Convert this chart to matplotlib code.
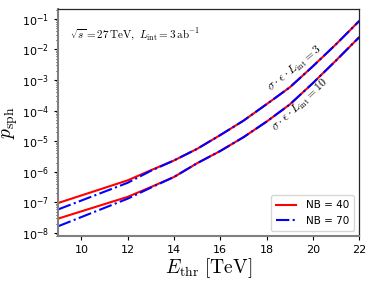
import numpy as np
import matplotlib
matplotlib.use("Agg")
import matplotlib.pyplot as plt

# threshold energies (TeV)
e_thr = [9, 12, 13, 14, 15, 16, 17, 18, 19, 20, 21, 22]

# log10 of sphaleron probability, sigma*eps*L = 3 (upper) and 10 (lower)
lg3_nb40 = [-7.02, -6.28, -5.95, -5.63, -5.25, -4.80, -4.33, -3.79, -3.24, -2.55, -1.83, -1.07]
lg3_nb70 = [-7.23, -6.36, -5.97, -5.63, -5.25, -4.80, -4.33, -3.79, -3.24, -2.55, -1.83, -1.07]
lg10_nb40 = [-7.53, -6.82, -6.50, -6.17, -5.72, -5.32, -4.87, -4.36, -3.80, -3.10, -2.36, -1.60]
lg10_nb70 = [-7.78, -6.88, -6.52, -6.17, -5.72, -5.32, -4.87, -4.36, -3.80, -3.10, -2.36, -1.60]

p3_nb40 = 10.0 ** np.array(lg3_nb40)
p3_nb70 = 10.0 ** np.array(lg3_nb70)
p10_nb40 = 10.0 ** np.array(lg10_nb40)
p10_nb70 = 10.0 ** np.array(lg10_nb70)

fig = plt.figure(figsize=(3.73, 2.83), dpi=100)
ax = fig.add_axes([0.156, 0.166, 0.807, 0.803])

ax.plot(e_thr, p3_nb40, color="red", lw=1.5, label="NB = 40")
ax.plot(e_thr, p3_nb70, color="blue", lw=1.5, ls="-.", label="NB = 70")
ax.plot(e_thr, p10_nb40, color="red", lw=1.5)
ax.plot(e_thr, p10_nb70, color="blue", lw=1.5, ls="-.")

ax.set_yscale("log")
ax.set_xlim(9, 22)
ax.set_ylim(10**-8.1, 10**-0.67)
ax.set_xticks([10, 12, 14, 16, 18, 20, 22])
ax.set_yticks([10.0**k for k in range(-8, 0)])
ax.tick_params(labelsize=8, length=3)
ax.tick_params(which="minor", length=1.5)

for s in ["left", "bottom"]:
    ax.spines[s].set_color("0.5")
    ax.spines[s].set_linewidth(1.5)
for s in ["top", "right"]:
    ax.spines[s].set_color("0.15")
    ax.spines[s].set_linewidth(0.9)

ax.set_xlabel(r"$E_{\rm thr}\ [\rm TeV]$", fontsize=14, math_fontfamily="cm", labelpad=1)
ax.set_ylabel(r"$p_{\rm sph}$", fontsize=14, math_fontfamily="cm", labelpad=1)

ax.text(0.04, 0.885, r"$\sqrt{s}=27\,{\rm TeV},\ L_{\rm int}=3\,{\rm ab}^{-1}$",
        transform=ax.transAxes, fontsize=8, math_fontfamily="cm", va="center")
ax.text(19.25, 2.3e-3, r"$\sigma\cdot\epsilon\cdot L_{\rm int}=3$", rotation=39,
        fontsize=8.5, math_fontfamily="cm", ha="center", va="center")
ax.text(19.45, 1.5e-4, r"$\sigma\cdot\epsilon\cdot L_{\rm int}=10$", rotation=43,
        fontsize=8.5, math_fontfamily="cm", ha="center", va="center")

ax.legend(loc="lower right", fontsize=7.5, handlelength=1.9, borderpad=0.5,
          handletextpad=0.9)

fig.savefig("out.png", dpi=100)
